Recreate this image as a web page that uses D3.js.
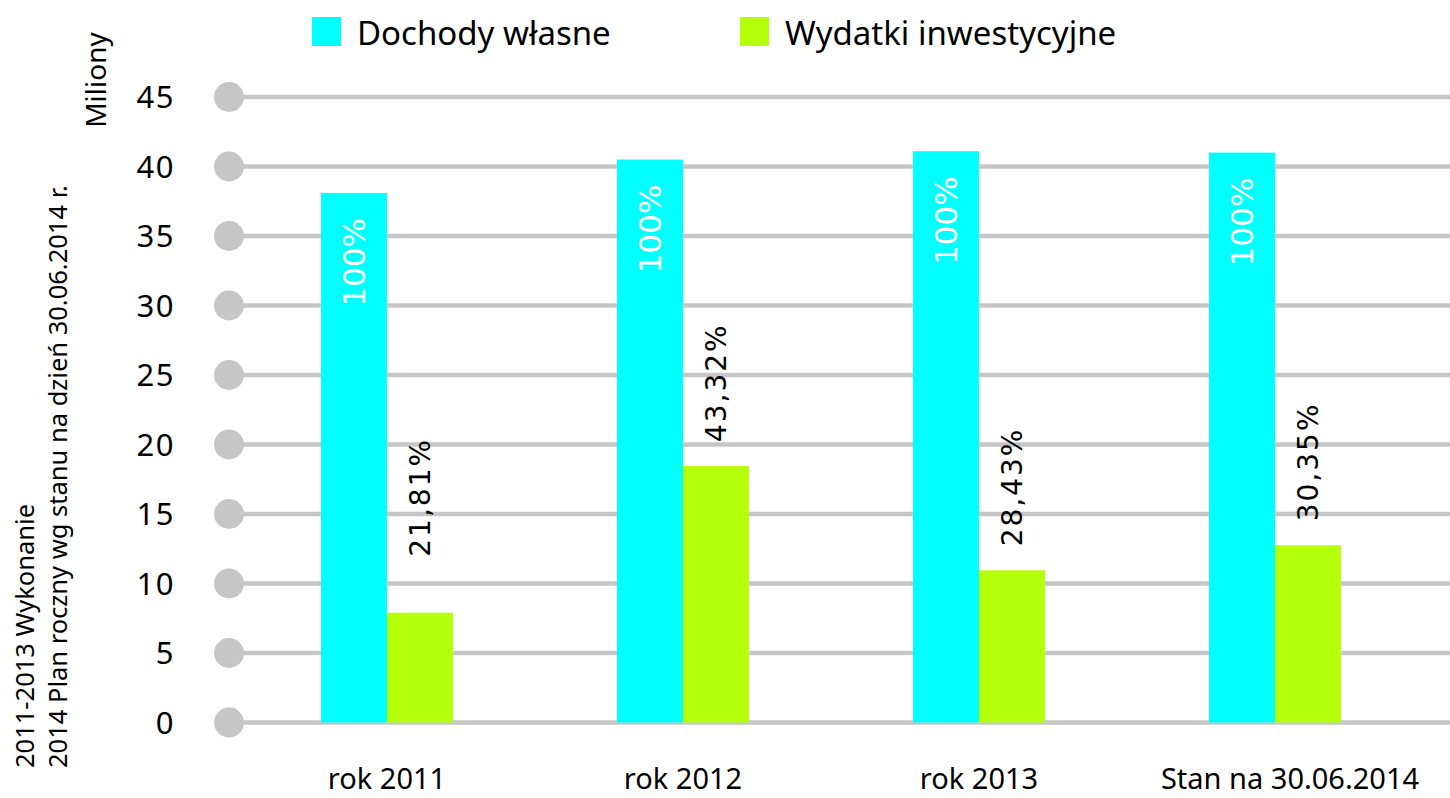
<!DOCTYPE html>
<html><head><meta charset="utf-8">
<script src="https://cdn.jsdelivr.net/npm/d3@7/dist/d3.min.js"></script>
<style>body{margin:0;background:#fff}svg{display:block}</style>
</head><body>
<svg id="c" width="1450" height="798"></svg>
<script>
const categories = ["rok 2011", "rok 2012", "rok 2013", "Stan na 30.06.2014"];
const dochody = [38.1, 40.5, 41.1, 41.0];
const wydatki = [7.9, 18.45, 10.95, 12.75];
const dochodyLabels = ["100%", "100%", "100%", "100%"];
const wydatkiLabels = ["21,81%", "43,32%", "28,43%", "30,35%"];
const yTicks = [0, 5, 10, 15, 20, 25, 30, 35, 40, 45];
const seriesNames = ["Dochody własne", "Wydatki inwestycyjne"];
const colors = ["#00ffff", "#b5ff0a"];

const svg = d3.select("#c");
const font = "'Noto Sans', 'Open Sans', sans-serif";
const y = d3.scaleLinear().domain([0, 45]).range([722.5, 97]);
const x0 = d3.scaleBand().domain(categories).range([239, 1423]).paddingInner(0).paddingOuter(0);
const barW = 66;
const x1 = d3.scaleBand().domain([0, 1]).range([-barW, barW]);

// gridlines
const grid = svg.append("g");
grid.selectAll("line").data(yTicks).join("line")
  .attr("x1", 229).attr("x2", 1450)
  .attr("y1", d => y(d)).attr("y2", d => y(d))
  .attr("stroke", "#c6c6c6").attr("stroke-width", 4.5);
grid.selectAll("circle").data(yTicks).join("circle")
  .attr("cx", 229).attr("cy", d => y(d)).attr("r", 15)
  .attr("fill", "#c6c6c6");

// y axis labels
const yAxis = d3.axisLeft(y).tickValues(yTicks).tickSize(0).tickPadding(0);
const ga = svg.append("g").attr("transform", "translate(175,0)").call(yAxis);
ga.select(".domain").remove();
ga.selectAll("text").attr("font-family", font).attr("font-size", 31).attr("letter-spacing", 1.5).attr("fill", "#000").attr("dy", "0.35em");

// bars
const groups = svg.append("g").selectAll("g").data(categories).join("g")
  .attr("transform", d => `translate(${x0(d) + x0.bandwidth() / 2},0)`);
groups.append("rect")
  .attr("x", x1(0)).attr("width", x1.bandwidth())
  .attr("y", (d, i) => y(dochody[i])).attr("height", (d, i) => y(0) - y(dochody[i]))
  .attr("fill", colors[0]);
groups.append("rect")
  .attr("x", x1(1)).attr("width", x1.bandwidth())
  .attr("y", (d, i) => y(wydatki[i])).attr("height", (d, i) => y(0) - y(wydatki[i]))
  .attr("fill", colors[1]);

// bar labels
groups.append("text")
  .attr("transform", (d, i) => `translate(${x1(0) + x1.bandwidth() / 2},${y(dochody[i]) + 25}) rotate(-90)`)
  .attr("text-anchor", "end").attr("dy", "0.36em")
  .attr("font-family", "'DejaVu Sans', sans-serif").attr("font-size", 31).attr("fill", "#fff")
  .text((d, i) => dochodyLabels[i]);
groups.append("text")
  .attr("transform", (d, i) => `translate(${x1(1) + x1.bandwidth() / 2},${y(wydatki[i]) - (i === 0 ? 56 : 24)}) rotate(-90)`)
  .attr("text-anchor", "start").attr("dy", "0.36em")
  .attr("font-family", "'DejaVu Sans', sans-serif").attr("font-size", 28).attr("letter-spacing", 2)
  .attr("fill", "#000")
  .text((d, i) => wydatkiLabels[i]);

// x labels
groups.append("text")
  .attr("x", (d, i) => i === 3 ? 15 : 0).attr("y", 789)
  .attr("text-anchor", "middle")
  .attr("font-family", font).attr("font-size", 29).attr("fill", "#000")
  .text(d => d);

// legend
const legendX = [312, 740];
const lg = svg.append("g").selectAll("g").data(seriesNames).join("g")
  .attr("transform", (d, i) => `translate(${legendX[i]},17)`);
lg.append("rect").attr("width", 29).attr("height", 29).attr("fill", (d, i) => colors[i]);
lg.append("text").attr("x", 45).attr("y", 28).attr("font-family", font).attr("font-size", 33).attr("fill", "#000").text(d => d);

// y title
svg.append("text").attr("transform", "translate(106,80) rotate(-90)")
  .attr("text-anchor", "middle").attr("font-family", font).attr("font-size", 28).attr("fill", "#000").text("Miliony");
svg.append("text").attr("transform", "translate(34,768) rotate(-90)")
  .attr("text-anchor", "start").attr("font-family", font).attr("font-size", 25.5).attr("fill", "#000").text("2011-2013 Wykonanie");
svg.append("text").attr("transform", "translate(67,768) rotate(-90)")
  .attr("text-anchor", "start").attr("font-family", font).attr("font-size", 25.5).attr("fill", "#000").text("2014 Plan roczny wg stanu na dzień 30.06.2014 r.");
</script>
</body></html>
